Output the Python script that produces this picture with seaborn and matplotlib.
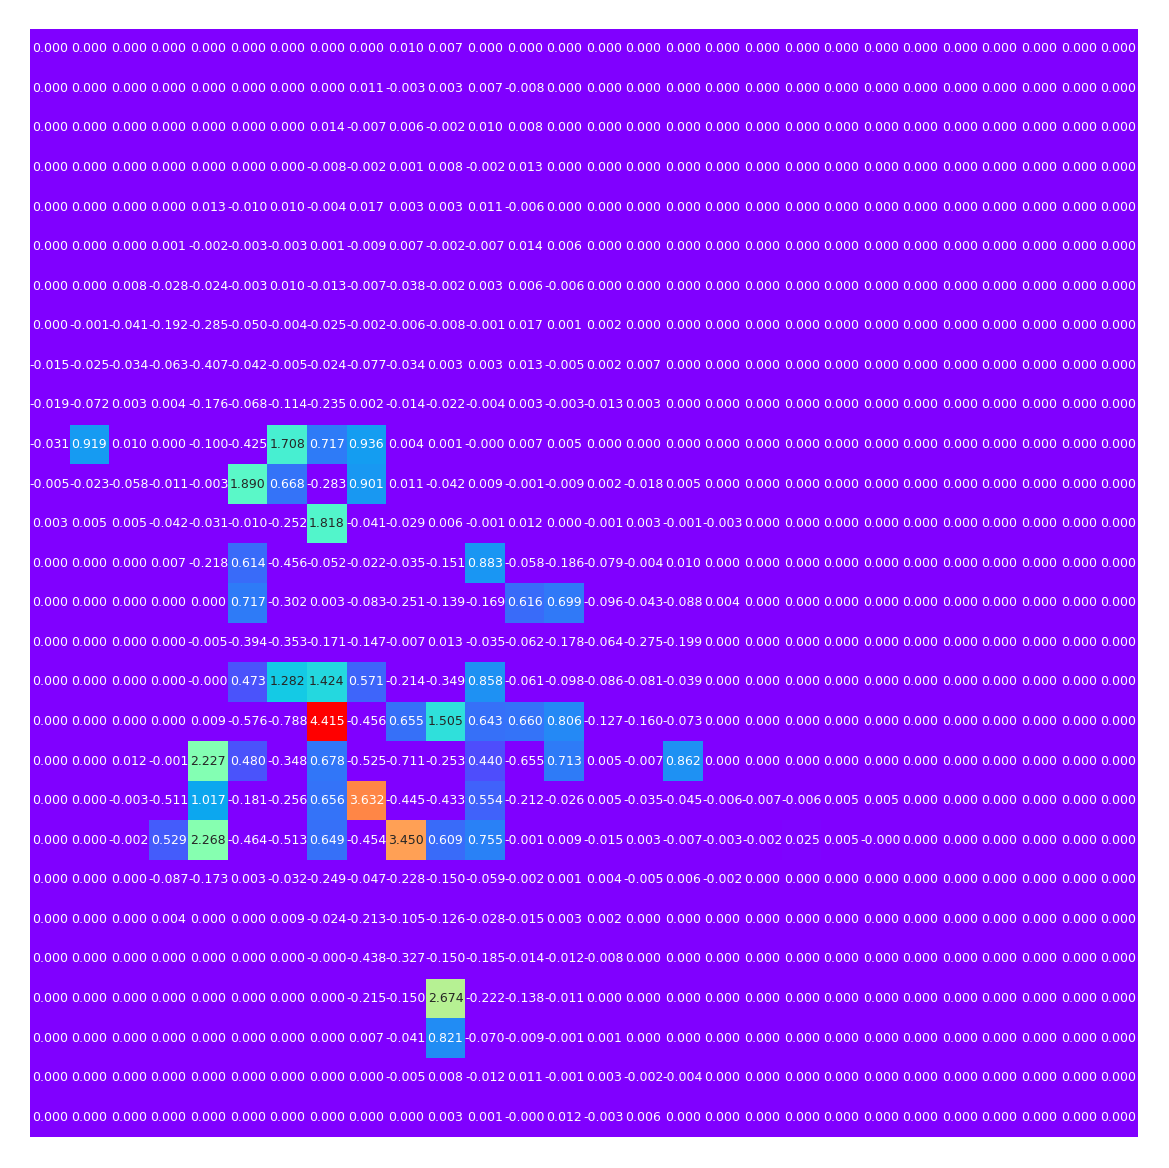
import numpy as np
import matplotlib
matplotlib.use("Agg")
import matplotlib.pyplot as plt
import seaborn as sns

N_COLS = 28

# Row values (trailing cells are 0.000)
row_00 = [0, 0, 0, 0, 0, 0, 0, 0, 0, 0.010, 0.007]
row_01 = [0, 0, 0, 0, 0, 0, 0, 0, 0.011, -0.003, 0.003, 0.007, -0.008]
row_02 = [0, 0, 0, 0, 0, 0, 0, 0.014, -0.007, 0.006, -0.002, 0.010, 0.008]
row_03 = [0, 0, 0, 0, 0, 0, 0, -0.008, -0.002, 0.001, 0.008, -0.002, 0.013]
row_04 = [0, 0, 0, 0, 0.013, -0.010, 0.010, -0.004, 0.017, 0.003, 0.003, 0.011, -0.006]
row_05 = [0, 0, 0, 0.001, -0.002, -0.003, -0.003, 0.001, -0.009, 0.007, -0.002, -0.007, 0.014, 0.006]
row_06 = [0, 0, 0.008, -0.028, -0.024, -0.003, 0.010, -0.013, -0.007, -0.038, -0.002, 0.003, 0.006, -0.006]
row_07 = [0, -0.001, -0.041, -0.192, -0.285, -0.050, -0.004, -0.025, -0.002, -0.006, -0.008, -0.001, 0.017, 0.001,
          0.002]
row_08 = [-0.015, -0.025, -0.034, -0.063, -0.407, -0.042, -0.005, -0.024, -0.077, -0.034, 0.003, 0.003, 0.013, -0.005,
          0.002, 0.007]
row_09 = [-0.019, -0.072, 0.003, 0.004, -0.176, -0.068, -0.114, -0.235, 0.002, -0.014, -0.022, -0.004, 0.003, -0.003,
          -0.013, 0.003]
row_10 = [-0.031, 0.919, 0.010, 0.000, -0.100, -0.425, 1.708, 0.717, 0.936, 0.004, 0.001, -0.0001, 0.007, 0.005]
row_11 = [-0.005, -0.023, -0.058, -0.011, -0.003, 1.890, 0.668, -0.283, 0.901, 0.011, -0.042, 0.009, -0.001, -0.009,
          0.002, -0.018, 0.005]
row_12 = [0.003, 0.005, 0.005, -0.042, -0.031, -0.010, -0.252, 1.818, -0.041, -0.029, 0.006, -0.001, 0.012, 0.000,
          -0.001, 0.003, -0.001, -0.003]
row_13 = [0, 0, 0, 0.007, -0.218, 0.614, -0.456, -0.052, -0.022, -0.035, -0.151, 0.883, -0.058, -0.186,
          -0.079, -0.004, 0.010]
row_14 = [0, 0, 0, 0, 0.000, 0.717, -0.302, 0.003, -0.083, -0.251, -0.139, -0.169, 0.616, 0.699,
          -0.096, -0.043, -0.088, 0.004]
row_15 = [0, 0, 0, 0, -0.005, -0.394, -0.353, -0.171, -0.147, -0.007, 0.013, -0.035, -0.062, -0.178,
          -0.064, -0.275, -0.199]
row_16 = [0, 0, 0, 0, -0.0001, 0.473, 1.282, 1.424, 0.571, -0.214, -0.349, 0.858, -0.061, -0.098,
          -0.086, -0.081, -0.039]
row_17 = [0, 0, 0, 0, 0.009, -0.576, -0.788, 4.415, -0.456, 0.655, 1.505, 0.643, 0.660, 0.806,
          -0.127, -0.160, -0.073]
row_18 = [0, 0, 0.012, -0.001, 2.227, 0.480, -0.348, 0.678, -0.525, -0.711, -0.253, 0.440, -0.655, 0.713,
          0.005, -0.007, 0.862]
row_19 = [0, 0, -0.003, -0.511, 1.017, -0.181, -0.256, 0.656, 3.632, -0.445, -0.433, 0.554, -0.212, -0.026,
          0.005, -0.035, -0.045, -0.006, -0.007, -0.006, 0.005, 0.005]
row_20 = [0, 0, -0.002, 0.529, 2.268, -0.464, -0.513, 0.649, -0.454, 3.450, 0.609, 0.755, -0.001, 0.009,
          -0.015, 0.003, -0.007, -0.003, -0.002, 0.025, 0.005, -0.0001]
row_21 = [0, 0, 0, -0.087, -0.173, 0.003, -0.032, -0.249, -0.047, -0.228, -0.150, -0.059, -0.002, 0.001,
          0.004, -0.005, 0.006, -0.002]
row_22 = [0, 0, 0, 0.004, 0, 0, 0.009, -0.024, -0.213, -0.105, -0.126, -0.028, -0.015, 0.003,
          0.002]
row_23 = [0, 0, 0, 0, 0, 0, 0, -0.0001, -0.438, -0.327, -0.150, -0.185, -0.014, -0.012,
          -0.008]
row_24 = [0, 0, 0, 0, 0, 0, 0, 0, -0.215, -0.150, 2.674, -0.222, -0.138, -0.011]
row_25 = [0, 0, 0, 0, 0, 0, 0, 0, 0.007, -0.041, 0.821, -0.070, -0.009, -0.001,
          0.001]
row_26 = [0, 0, 0, 0, 0, 0, 0, 0, 0, -0.005, 0.008, -0.012, 0.011, -0.001,
          0.003, -0.002, -0.004]
row_27 = [0, 0, 0, 0, 0, 0, 0, 0, 0, 0, 0.003, 0.001, -0.0001, 0.012,
          -0.003, 0.006]

rows = [row_00, row_01, row_02, row_03, row_04, row_05, row_06, row_07, row_08, row_09,
        row_10, row_11, row_12, row_13, row_14, row_15, row_16, row_17, row_18, row_19,
        row_20, row_21, row_22, row_23, row_24, row_25, row_26, row_27]

data = np.array([r + [0.0] * (N_COLS - len(r)) for r in rows], dtype=float)

fig = plt.figure(figsize=(11.69, 11.68), dpi=100)
ax = fig.add_axes([30 / 1169, (1168 - 1137) / 1168, 1108 / 1169, 1108 / 1168])
sns.heatmap(data, ax=ax, cmap="rainbow", vmin=0, vmax=data.max(),
            annot=True, fmt=".3f", annot_kws={"size": 9},
            cbar=False, xticklabels=False, yticklabels=False)
ax.set_xlabel("")
ax.set_ylabel("")
fig.savefig("out.png", dpi=100)
